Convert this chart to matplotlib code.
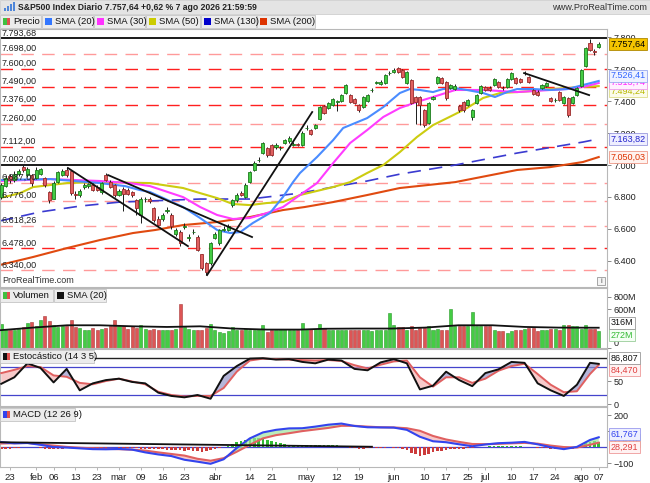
import numpy as np
import matplotlib
matplotlib.use("Agg")
import matplotlib.pyplot as plt
import matplotlib.transforms as mtransforms
from matplotlib.patches import Rectangle
from matplotlib.ticker import FuncFormatter

plt.rcParams['font.family'] = ['Liberation Sans', 'DejaVu Sans']
plt.rcParams['font.size'] = 6.5

# ---------------- data ----------------
first_index = -2   # index 0 = 23 Jan 2026 (trading-day index)

opens = [6800, 6870, 6930, 6905, 6945, 6985, 6935, 6937, 6918, 6945, 6918, 6830, 6790, 6893, 6940, 6970,
         6960, 6820, 6812, 6860, 6870, 6875, 6865, 6830, 6937, 6895, 6875, 6815, 6850, 6845, 6830, 6780,
         6690, 6785, 6790, 6730, 6665, 6660, 6712, 6690, 6570, 6580, 6612, 6540, 6578, 6550, 6440, 6385,
         6385, 6545, 6510, 6595, 6595, 6750, 6780, 6825, 6800, 6893, 6968, 7030, 7075, 7106, 7125, 7110,
         7104, 7137, 7150, 7128, 7130, 7125, 7229, 7219, 7231, 7288, 7370, 7357, 7376, 7395, 7400, 7450,
         7438, 7413, 7376, 7363, 7400, 7468, 7513, 7506, 7515, 7574, 7583, 7607, 7595, 7515, 7532, 7425,
         7425, 7344, 7263, 7413, 7515, 7545, 7520, 7485, 7475, 7370, 7395, 7376, 7300, 7390, 7450, 7490,
         7485, 7500, 7520, 7484, 7490, 7540, 7545, 7538, 7574, 7551, 7470, 7460, 7485, 7495, 7420, 7405,
         7455, 7388, 7420, 7390, 7438, 7495, 7620, 7765, 7712, 7737]
highs = [6890, 6935, 6945, 6960, 6975, 7000, 6990, 6945, 6985, 6980, 6925, 6840, 6900, 6965, 6975, 6985,
         6965, 6840, 6850, 6885, 6890, 6885, 6872, 6895, 6950, 6905, 6880, 6850, 6860, 6855, 6840, 6790,
         6800, 6800, 6800, 6740, 6680, 6700, 6735, 6700, 6605, 6590, 6640, 6565, 6600, 6560, 6445, 6395,
         6520, 6580, 6600, 6615, 6630, 6790, 6825, 6835, 6885, 6965, 7025, 7050, 7145, 7115, 7130, 7135,
         7120, 7165, 7180, 7145, 7140, 7210, 7250, 7225, 7260, 7370, 7378, 7395, 7420, 7410, 7445, 7510,
         7445, 7420, 7382, 7432, 7445, 7485, 7528, 7530, 7570, 7590, 7605, 7615, 7600, 7590, 7540, 7432,
         7430, 7350, 7395, 7435, 7560, 7552, 7528, 7510, 7505, 7378, 7402, 7415, 7352, 7445, 7502, 7498,
         7492, 7545, 7528, 7495, 7545, 7585, 7552, 7545, 7592, 7558, 7478, 7468, 7510, 7522, 7428, 7420,
         7462, 7432, 7428, 7432, 7490, 7602, 7740, 7790, 7725, 7768]
lows = [6785, 6860, 6890, 6895, 6930, 6955, 6925, 6870, 6910, 6935, 6865, 6760, 6785, 6885, 6930, 6925,
        6815, 6790, 6800, 6850, 6858, 6835, 6835, 6820, 6900, 6855, 6800, 6805, 6710, 6810, 6800, 6690,
        6640, 6770, 6760, 6645, 6610, 6650, 6700, 6600, 6555, 6490, 6600, 6525, 6565, 6460, 6345, 6310,
        6375, 6535, 6500, 6585, 6585, 6740, 6770, 6805, 6795, 6885, 6960, 7020, 7070, 7050, 7055, 7100,
        7095, 7130, 7140, 7120, 7118, 7118, 7220, 7185, 7225, 7280, 7318, 7350, 7370, 7340, 7395, 7445,
        7388, 7380, 7335, 7355, 7395, 7455, 7505, 7500, 7510, 7565, 7578, 7575, 7545, 7510, 7380, 7260,
        7250, 7240, 7255, 7405, 7508, 7508, 7410, 7478, 7468, 7335, 7335, 7368, 7285, 7382, 7442, 7462,
        7462, 7492, 7482, 7470, 7482, 7532, 7508, 7512, 7565, 7512, 7438, 7432, 7478, 7488, 7392, 7395,
        7400, 7380, 7300, 7382, 7430, 7488, 7612, 7712, 7690, 7730]
closes = [6875, 6920, 6905, 6945, 6960, 6968, 6975, 6890, 6968, 6972, 6875, 6780, 6890, 6955, 6965, 6935,
          6825, 6815, 6840, 6875, 6880, 6845, 6845, 6885, 6906, 6865, 6812, 6840, 6820, 6820, 6810, 6730,
          6790, 6790, 6772, 6655, 6625, 6685, 6718, 6615, 6590, 6510, 6618, 6548, 6582, 6470, 6355, 6330,
          6510, 6565, 6590, 6600, 6620, 6780, 6812, 6812, 6875, 6955, 7012, 7034, 7137, 7062, 7062, 7125,
          7108, 7156, 7170, 7132, 7127, 7200, 7233, 7194, 7250, 7363, 7325, 7388, 7413, 7398, 7438, 7501,
          7395, 7388, 7344, 7425, 7438, 7472, 7517, 7520, 7564, 7578, 7595, 7583, 7551, 7583, 7388, 7395,
          7376, 7250, 7388, 7425, 7551, 7515, 7420, 7501, 7495, 7345, 7345, 7407, 7344, 7438, 7495, 7470,
          7470, 7538, 7490, 7480, 7538, 7576, 7515, 7520, 7578, 7520, 7445, 7440, 7501, 7515, 7400, 7409,
          7407, 7425, 7313, 7425, 7482, 7595, 7732, 7720, 7708, 7757.64]
volumes_m = [369, 303, 287, 277, 303, 328, 395, 405, 338, 431, 492, 420, 354, 328, 338, 338, 441, 328, 318, 287,
             277, 318, 287, 303, 318, 338, 441, 338, 338, 303, 338, 318, 354, 303, 287, 303, 277, 287, 277, 287,
             303, 687, 328, 303, 287, 287, 287, 318, 379, 287, 251, 236, 266, 328, 277, 287, 303, 287, 287, 303,
             354, 251, 287, 287, 303, 303, 287, 287, 287, 390, 303, 303, 303, 369,
             303, 287, 287, 287, 287, 287, 287, 287, 287, 287, 287, 266, 287, 287, 287, 543, 354, 328, 328, 287,
             338, 287, 318, 318, 338, 287, 303, 287, 287, 610, 338, 338, 338, 338, 559, 338, 338, 338, 338,
             277, 266, 266, 226, 266, 277, 287, 303, 318, 318, 266, 277, 277, 303, 303, 287, 354, 354, 338, 338,
             303, 354, 303, 303, 272]
macd_hist = [-8, -10, -8, -6,
             -2, -1, 0, 1, -1, -3,
             -10, -12, -12, -10, -8, -5,
             -6, -8, -6, -4,
             -3, -3, -2, -3, -2, -1, 0, -2, -3, -2, -2,
             -5, -8, -10, -12, -14, -12, -12, -15, -16, -18, -20, -22, -20, -22, -25, -28, -25, -18,
             -10, -5, 0,
             10, 20, 30, 38, 45, 52, 58, 60, 55, 45, 38, 30, 25, 20, 16,
             12, 10, 10, 12, 12, 14, 15, 14, 13, 12, 12, 10, 5,
             -2, -5, -8, -8, -6, -5, -3, -2, -2, -1, -3, -5,
             -10, -20, -35, -45, -52, -48, -40, -32,
             -26, -22, -18, -14, -12, -10, -8, -6, -3, -1,
             2, 4, 5, 5, 6, 6, 5, 6, 6, 5, 4, 3, 1,
             -3, -5, -7, -8, -10, -12, -12, -10, -8,
             5, 15, 25, 33, 38, 33.476]

sma20_idx = [-2.3, 9.2, 20.6, 26.4, 29.8, 32.1, 39.7, 43.6, 47.5, 50.5, 52.8, 55.7, 59.6, 62.6, 64.9, 66.5,
             70.4, 74.1, 76.4, 81.9, 85.6, 89.4, 91.7, 94.0, 97.0, 99.3, 102.1, 104.8, 108.5, 111.2, 114.0,
             116.3, 120.0, 123.9, 127.8, 131.4, 135.0]
sma20_val = [6906, 6912, 6887, 6868, 6843, 6831, 6737, 6668, 6593, 6574, 6580, 6637, 6699, 6800, 6893, 6950,
             7050, 7156, 7232, 7294, 7363, 7451, 7476, 7470, 7457, 7476, 7482, 7470, 7451, 7426, 7457,
             7476, 7476, 7470, 7476, 7501, 7526.41]
sma30_idx = [-2.3, 9.2, 20.6, 27.5, 32.1, 39.7, 43.6, 47.5, 51.1, 55.0, 58.9, 62.6, 66.5, 70.4, 74.1, 78.0,
             81.9, 85.6, 89.4, 93.3, 97.0, 102.1, 108.5, 116.3, 123.9, 127.8, 131.4, 135.0]
sma30_val = [6900, 6912, 6900, 6887, 6868, 6799, 6737, 6687, 6662, 6668, 6699, 6737, 6812, 6887, 7012, 7138,
             7219, 7301, 7357, 7395, 7426, 7470, 7470, 7457, 7470, 7476, 7489, 7513.74]
sma50_idx = [-2.3, 2.3, 5.3, 13.1, 20.6, 32.1, 39.7, 43.6, 47.5, 51.1, 55.0, 58.9, 62.6, 66.5, 74.1, 78.0,
             81.9, 85.6, 89.4, 93.3, 97.0, 102.1, 104.8, 108.5, 112.4, 116.3, 120.0, 123.9, 127.8, 131.4, 135.0]
sma50_val = [6793, 6824, 6862, 6887, 6893, 6887, 6856, 6824, 6793, 6756, 6749, 6762, 6768, 6812, 6862, 6893,
             6950, 7000, 7081, 7175, 7250, 7319, 7357, 7420, 7451, 7457, 7464, 7476, 7482, 7489, 7494.24]
sma130_idx = [-2.3, 6.9, 16.1, 25.2, 32.1, 43.6, 55.0, 66.5, 74.1, 81.9, 89.4, 102.1, 116.3, 131.4, 135.0]
sma130_val = [6650, 6706, 6743, 6768, 6775, 6787, 6787, 6824, 6862, 6900, 6943, 7000, 7075, 7144, 7163.82]
sma200_idx = [-2.3, 5.3, 13.1, 20.6, 28.2, 33.3, 39.7, 47.5, 55.0, 62.6, 67.6, 74.1, 81.9, 89.4, 102.1,
              116.3, 123.9, 131.4, 135.0]
sma200_val = [6374, 6424, 6480, 6530, 6574, 6593, 6624, 6643, 6674, 6718, 6737, 6768, 6812, 6856, 6893,
              6969, 6987, 7019, 7050.03]

vol_sma_idx = [-2.3, 5.3, 13.1, 20.6, 28.2, 36.0, 43.6, 51.1, 58.9, 66.5, 72.2, 79.8, 87.6, 95.2, 102.8,
               110.6, 118.1, 125.7, 133.5, 135.0]
vol_sma_val = [277, 318, 354, 354, 338, 328, 338, 303, 287, 287, 300, 303, 303, 318, 354, 354, 328, 318, 316, 316]

osc_idx = [-2, 1, 4, 7, 10, 13, 16, 19, 22, 25, 28, 31, 34, 37, 40, 43, 46, 49, 52, 55, 58, 61, 64, 67, 70,
           73, 76, 79, 82, 85, 88, 91, 94, 97, 100, 103, 106, 109, 112, 115, 118, 121, 124, 127, 130, 133, 135]
stoch_k = [44, 58, 88, 78, 47, 76, 30, 45, 52, 55, 48, 45, 25, 18, 15, 20, 12, 61, 82, 98, 99, 96, 97, 91, 88,
           96, 94, 76, 73, 90, 97, 88, 32, 40, 70, 52, 39, 67, 75, 91, 89, 45, 30, 18, 42, 89, 86.807]
stoch_d = [67, 74, 82, 80, 62, 59, 46, 43, 50, 55, 49, 43, 27, 20, 17, 18, 18, 35, 70, 94, 98, 97, 96, 95, 94,
           95, 93, 84, 77, 85, 92, 94, 58, 38, 58, 58, 46, 55, 72, 82, 87, 65, 42, 26, 28, 65, 84.470]
macd_line = [32, 24, 26, 15, 1, -2, -7, -12, -13, -11, -15, -32, -45, -55, -78, -90, -103, -75, -5, 55, 92, 108,
             117, 118, 128, 140, 147, 132, 124, 123, 122, 108, 65, 37, 31, 18, 6, 17, 25, 28, 33, 18, 0, -12, 2,
             45, 61.767]
macd_signal = [23, 25, 27, 18, 10, 2, -3, -7, -10, -12, -15, -21, -32, -42, -52, -72, -84, -68, -28, 15, 55, 75,
               87, 100, 110, 120, 133, 133, 128, 124, 123, 118, 102, 70, 48, 33, 20, 19, 21, 24, 27, 22, 10, 1, -2,
               15, 28.291]

level_values = [7793.68, 7698, 7600, 7490, 7376, 7260, 7112, 7002, 6887, 6776, 6618.26, 6478, 6340]
level_labels = ['7.793,68', '7.698,00', '7.600,00', '7.490,00', '7.376,00', '7.260,00', '7.112,00',
                '7.002,00', '6.887,00', '6.776,00', '6.618,26', '6.478,00', '6.340,00']
level_kinds = ['solid', 'pale', 'red', 'red', 'red', 'pale', 'red', 'solid', 'pale', 'pale', 'pale', 'red', 'pale']

# trend lines (index, price) endpoints
trend_lines = [((13.3, 6981), (40.8, 6492)),
               ((22.5, 6937), (55.5, 6549)),
               ((45.2, 6311), (69.3, 7332)),
               ((117.9, 7576), (132.8, 7438))]
macd_trend = ((-2.3, 31), (83.0, 3))

tick_pos = [0, 6, 10, 15, 20, 25, 30, 35, 40, 47, 55, 60, 68, 75, 80, 88, 95, 100, 105, 109, 115, 120, 125, 131, 135]
tick_lab = ['23', 'feb', '06', '13', '23', 'mar', '09', '16', '23', 'abr', '14', '21', 'may', '12', '19', 'jun',
            '10', '17', '25', 'jul', '10', '17', '24', 'ago', '07']

# ---------------- helpers ----------------
W, H = 650, 483


def es(v, d=2):
    s = f"{v:,.{d}f}"
    return s.replace(',', 'X').replace('.', ',').replace('X', '.')


o = np.array(opens, float); c = np.array(closes, float)
hi = np.array(highs, float); lo = np.array(lows, float)
idx = np.arange(first_index, first_index + len(closes))
up = c >= o

fig = plt.figure(figsize=(W / 100, H / 100), dpi=100)
fig.patch.set_facecolor('white')


def add_ax(top, bottom):
    return fig.add_axes([0, 1 - bottom / H, 607 / W, (bottom - top) / H])


ax_p = add_ax(29, 287)
ax_v = add_ax(288, 348)
ax_s = add_ax(349, 406)
ax_m = add_ax(407, 467)

XL = (-2.29, 136.9)
for ax in (ax_p, ax_v, ax_s, ax_m):
    ax.set_xlim(*XL)
    ax.yaxis.tick_right()
    for sp in ax.spines.values():
        sp.set_color('#b8b8b8'); sp.set_linewidth(0.8)
    ax.tick_params(axis='y', labelsize=6.5, length=3, width=0.6, color='#777777', pad=2, labelcolor='#222222')
    ax.tick_params(axis='x', bottom=False, labelbottom=False)
    ax.set_facecolor('white')

# ---- price panel ----
ax_p.set_ylim(6236, 7852)
for v, lab, k in zip(level_values, level_labels, level_kinds):
    if k == 'solid':
        ax_p.axhline(v, color='#1a1a1a', lw=1.4, zorder=1)
    else:
        ax_p.axhline(v, color='#ff2020' if k == 'red' else '#ff9a9a', lw=1.0,
                     linestyle=(0, (9, 6)), zorder=1)
    ax_p.text(-2.05, v + 6, lab, fontsize=6.5, color='#222222', va='bottom', ha='left', zorder=7)

ax_p.plot(sma130_idx, sma130_val, color='#3a3ad0', lw=1.2, dashes=(8, 5), zorder=2)
ax_p.plot(sma200_idx, sma200_val, color='#e04a10', lw=1.5, zorder=2)
ax_p.plot(sma50_idx, sma50_val, color='#cccc10', lw=1.5, zorder=2)
ax_p.plot(sma30_idx, sma30_val, color='#ff3cff', lw=1.5, zorder=2)
ax_p.plot(sma20_idx, sma20_val, color='#4a8cff', lw=1.5, zorder=2)

ax_p.vlines(idx, lo, hi, color='#1a1a1a', lw=0.7, zorder=3)
ax_p.bar(idx, np.abs(c - o), bottom=np.minimum(o, c), width=0.7,
         color=np.where(up, '#44cc44', '#e06060'), edgecolor=np.where(up, '#1c7a1c', '#9a2a2a'),
         linewidth=0.6, zorder=4)

for (x0, y0), (x1, y1) in trend_lines:
    ax_p.plot([x0, x1], [y0, y1], color='#111111', lw=1.3, zorder=5)

ax_p.set_yticks([6400, 6600, 6800, 7000, 7200, 7400, 7600, 7800])
ax_p.yaxis.set_major_formatter(FuncFormatter(lambda v, p: f"{int(v):,}".replace(',', '.')))
ax_p.text(0.004, 0.008, 'ProRealTime.com', transform=ax_p.transAxes, fontsize=6.5, color='#333333',
          va='bottom', ha='left', zorder=8)


def tag(ax, val, text, tc, fc, ec, dy=0.0):
    tr = mtransforms.blended_transform_factory(ax.transAxes, ax.transData)
    ax.annotate(text, xy=(1, val), xycoords=tr, xytext=(2.5, dy), textcoords='offset points',
                fontsize=6.5, color=tc, va='center', ha='left', annotation_clip=False, zorder=20,
                bbox=dict(boxstyle='square,pad=0.18', fc=fc, ec=ec, lw=0.6))


tag(ax_p, sma200_val[-1], es(sma200_val[-1]), '#dd3300', '#fff2ee', '#ee9988')
tag(ax_p, sma130_val[-1], es(sma130_val[-1]), '#2222cc', '#eeeeff', '#9999dd')
tag(ax_p, sma50_val[-1], es(sma50_val[-1]), '#b8b800', '#fbfbea', '#dddd88', dy=-3.4)
tag(ax_p, sma30_val[-1], es(sma30_val[-1]), '#ff22ff', '#fff0ff', '#ee99ee', dy=0.2)
tag(ax_p, sma20_val[-1], es(sma20_val[-1]), '#3366ff', '#eef2ff', '#99aaee', dy=3.8)
tag(ax_p, closes[-1], es(closes[-1]), '#000000', '#f5c400', '#b08800')

# ---- volume panel ----
vol = np.array(volumes_m, float)
ax_v.set_ylim(0, 935)
ax_v.bar(idx, vol, width=0.7, color=np.where(up, '#44cc44', '#dd5555'),
         edgecolor=np.where(up, '#2a9a2a', '#a83a3a'), linewidth=0.4, zorder=2)
ax_v.plot(vol_sma_idx, vol_sma_val, color='#111111', lw=1.3, zorder=3)
ax_v.set_yticks([0, 600, 800])
ax_v.set_yticklabels(['0', '600M', '800M'])
tag(ax_v, vol[-1], f"{int(vol[-1])}M", '#33bb33', '#f4fff4', '#99cc99', dy=-3.4)
tag(ax_v, vol_sma_val[-1], f"{int(vol_sma_val[-1])}M", '#111111', '#ffffff', '#999999', dy=3.4)

# ---- stochastic panel ----
k = np.array(stoch_k); d = np.array(stoch_d)
ax_s.set_ylim(-3.6, 118.7)
ax_s.axhline(100, color='#222222', lw=1.0, zorder=1)
ax_s.axhline(80, color='#4444cc', lw=0.9, zorder=1)
ax_s.axhline(20, color='#4444cc', lw=0.9, zorder=1)
ax_s.fill_between(osc_idx, k, d, where=k >= d, interpolate=True, color='#8e8ec6', alpha=0.65, lw=0, zorder=2)
ax_s.fill_between(osc_idx, k, d, where=k < d, interpolate=True, color='#f2a8a8', alpha=0.6, lw=0, zorder=2)
ax_s.plot(osc_idx, d, color='#e06060', lw=1.4, zorder=3)
ax_s.plot(osc_idx, k, color='#111111', lw=1.4, zorder=4)
ax_s.set_yticks([0, 50])
tag(ax_s, stoch_d[-1], es(stoch_d[-1], 3), '#e04040', '#fff2f2', '#ee9999', dy=-3.6)
tag(ax_s, stoch_k[-1], es(stoch_k[-1], 3), '#111111', '#ffffff', '#999999', dy=4.0)

# ---- MACD panel ----
m = np.array(macd_line); sg = np.array(macd_signal)
hist = np.array(macd_hist, float)
ax_m.set_ylim(-123, 250)
ax_m.axhline(0, color='#4444cc', lw=0.9, zorder=1)
ax_m.bar(idx, hist, width=0.6, color=np.where(hist >= 0, '#33bb33', '#cc3b3b'), linewidth=0, zorder=2)
ax_m.fill_between(osc_idx, m, sg, where=m >= sg, interpolate=True, color='#9fe59f', alpha=0.7, lw=0, zorder=3)
ax_m.fill_between(osc_idx, m, sg, where=m < sg, interpolate=True, color='#f4b0b0', alpha=0.7, lw=0, zorder=3)
ax_m.plot(osc_idx, sg, color='#e06060', lw=1.5, zorder=4)
ax_m.plot(osc_idx, m, color='#3344ee', lw=1.5, zorder=5)
(mx0, my0), (mx1, my1) = macd_trend
ax_m.plot([mx0, mx1], [my0, my1], color='#111111', lw=1.3, zorder=6)
ax_m.set_yticks([-100, 100, 200])
tag(ax_m, hist[-1], es(hist[-1], 3), '#33bb33', '#f4fff4', '#99cc99', dy=1.0)
tag(ax_m, macd_signal[-1], es(macd_signal[-1], 3), '#e04040', '#fff2f2', '#ee9999', dy=-3.2)
tag(ax_m, macd_line[-1], es(macd_line[-1], 3), '#3344ee', '#eef0ff', '#9999ee', dy=2.4)

ax_m.set_xticks(tick_pos)
ax_m.set_xticklabels(tick_lab)
ax_m.tick_params(axis='x', bottom=True, labelbottom=True, length=2, width=0.5, color='#999999',
                 labelsize=6.8, pad=2, labelcolor='#222222')

for lab in ax_v.get_yticklabels():
    if lab.get_text() == '0':
        lab.set_verticalalignment('bottom')

# ---------------- overlay (title bar, legends) ----------------
ov = fig.add_axes([0, 0, 1, 1], zorder=10)
ov.set_xlim(0, W); ov.set_ylim(H, 0); ov.axis('off'); ov.patch.set_alpha(0)

ov.add_patch(Rectangle((0, 0), W, 14, fc='#e4e4e4', ec='#c8c8c8', lw=0.5))
for bx, bh in zip([4, 7, 10, 13], [3, 5, 7, 9]):
    ov.add_patch(Rectangle((bx, 11 - bh), 2, bh, fc='#4f86d8', ec='none'))
ov.text(18, 7, 'S&P500 Index Diario 7.757,64 +0,62 % 7 ago 2026 21:59:59', fontsize=6.2,
        fontweight='bold', color='#222222', va='center', ha='left')
ov.text(647, 7, 'www.ProRealTime.com', fontsize=6.6, color='#333333', va='center', ha='right')


def legend_box(x0, x1, y0, y1, text, swatch):
    ov.add_patch(Rectangle((x0, y0), x1 - x0, y1 - y0, fc='#ececec', ec='#c4c4c4', lw=0.6))
    n = len(swatch)
    sw = 7.0 / n
    for j, col in enumerate(swatch):
        ov.add_patch(Rectangle((x0 + 3 + j * sw, (y0 + y1) / 2 - 3.5), sw, 7, fc=col, ec='none'))
    ov.text(x0 + 13, (y0 + y1) / 2 + 0.3, text, fontsize=6.8, color='#111111', va='center', ha='left')


legend_box(0, 41, 15, 28, 'Precio', ['#40c040', '#e05050'])
legend_box(42, 93, 15, 28, 'SMA (20)', ['#3377ff'])
legend_box(94, 145, 15, 28, 'SMA (30)', ['#ff33ff'])
legend_box(146, 200, 15, 28, 'SMA (50)', ['#cccc00'])
legend_box(201, 256, 15, 28, 'SMA (130)', ['#0000cc'])
legend_box(257, 315, 15, 28, 'SMA (200)', ['#dd3300'])
legend_box(0, 53, 289, 302, 'Volumen', ['#40c040', '#e05050'])
legend_box(54, 106, 289, 302, 'SMA (20)', ['#111111'])
legend_box(0, 94, 350, 363, 'Estocástico (14 3 5)', ['#111111', '#e05050'])
legend_box(0, 75, 408, 421, 'MACD (12 26 9)', ['#3344ee', '#e05050'])

ov.add_patch(Rectangle((597, 277), 8, 8, fc='#f4f4f4', ec='#999999', lw=0.6))
ov.text(601, 281.5, 'i', fontsize=5.5, color='#555555', va='center', ha='center')

fig.savefig('out.png', dpi=100)
